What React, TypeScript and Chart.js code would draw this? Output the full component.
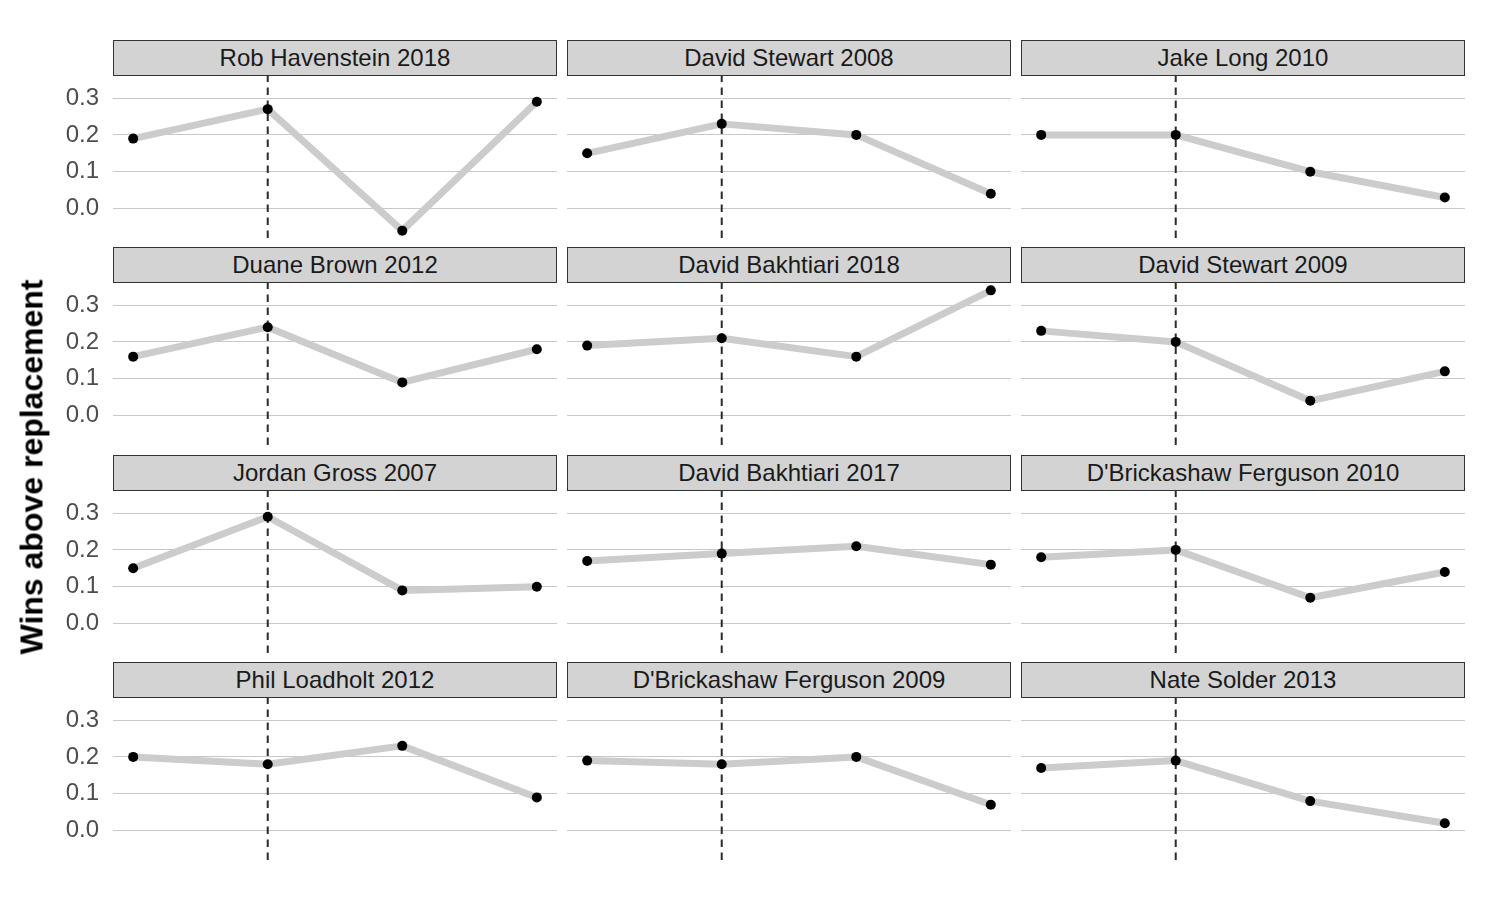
import React, { useEffect, useRef } from "react";
import { Chart, registerables } from "chart.js";

Chart.register(...registerables);

// ---- data ----
const panelTitles = [
  "Rob Havenstein 2018",
  "David Stewart 2008",
  "Jake Long 2010",
  "Duane Brown 2012",
  "David Bakhtiari 2018",
  "David Stewart 2009",
  "Jordan Gross 2007",
  "David Bakhtiari 2017",
  "D'Brickashaw Ferguson 2010",
  "Phil Loadholt 2012",
  "D'Brickashaw Ferguson 2009",
  "Nate Solder 2013",
];

const seasons = [1, 2, 3, 4];
const markerSeason = 2;
const yTicks = [0, 0.1, 0.2, 0.3];
const yMin = -0.08;
const yMax = 0.36;
const xMin = 0.85;
const xMax = 4.15;

const robHavenstein2018 = [0.19, 0.27, -0.06, 0.29];
const davidStewart2008 = [0.15, 0.23, 0.2, 0.04];
const jakeLong2010 = [0.2, 0.2, 0.1, 0.03];
const duaneBrown2012 = [0.16, 0.24, 0.09, 0.18];
const davidBakhtiari2018 = [0.19, 0.21, 0.16, 0.34];
const davidStewart2009 = [0.23, 0.2, 0.04, 0.12];
const jordanGross2007 = [0.15, 0.29, 0.09, 0.1];
const davidBakhtiari2017 = [0.17, 0.19, 0.21, 0.16];
const dbFerguson2010 = [0.18, 0.2, 0.07, 0.14];
const philLoadholt2012 = [0.2, 0.18, 0.23, 0.09];
const dbFerguson2009 = [0.19, 0.18, 0.2, 0.07];
const nateSolder2013 = [0.17, 0.19, 0.08, 0.02];

const panelValues = [
  robHavenstein2018,
  davidStewart2008,
  jakeLong2010,
  duaneBrown2012,
  davidBakhtiari2018,
  davidStewart2009,
  jordanGross2007,
  davidBakhtiari2017,
  dbFerguson2010,
  philLoadholt2012,
  dbFerguson2009,
  nateSolder2013,
];

const yAxisTitle = "Wins above replacement";

// ---- layout / style ----
const FONT = "'Liberation Sans', Arial, sans-serif";
const colLeft = [113, 567, 1021];
const rowTop = [40, 247, 455, 662];
const panelW = 444;
const stripH = 36;
const plotH = 162;
const padBottom = 40;
const axisW = 63;

function Panel({ idx }: { idx: number }) {
  const ref = useRef<HTMLCanvasElement | null>(null);
  const row = Math.floor(idx / 3);
  const col = idx % 3;
  const showTicks = col === 0;
  const left = showTicks ? colLeft[col] - axisW : colLeft[col];
  const width = showTicks ? panelW + axisW : panelW;
  const height = stripH + plotH + padBottom;

  useEffect(() => {
    if (!ref.current) return;
    const values = panelValues[idx];
    const pts = seasons.map((s, i) => ({ x: s, y: values[i] }));
    const chart = new Chart(ref.current, {
      type: "line",
      data: {
        datasets: [
          {
            data: pts,
            showLine: false,
            pointRadius: 5,
            pointBackgroundColor: "#000000",
            pointBorderWidth: 0,
            clip: false,
            order: 1,
          },
          {
            data: [
              { x: markerSeason, y: yMin },
              { x: markerSeason, y: yMax },
            ],
            borderColor: "#2b2b2b",
            borderWidth: 2,
            borderDash: [7.5, 5.5],
            pointRadius: 0,
            order: 2,
          },
          {
            data: pts,
            borderColor: "#cccccc",
            borderWidth: 7,
            borderJoinStyle: "round",
            borderCapStyle: "butt",
            pointRadius: 0,
            order: 3,
          },
        ],
      },
      options: {
        animation: false,
        responsive: false,
        maintainAspectRatio: false,
        layout: {
          autoPadding: false,
          padding: { top: stripH, bottom: padBottom, left: 0, right: 0 },
        },
        plugins: { legend: { display: false }, tooltip: { enabled: false }, title: { display: false } },
        scales: {
          x: {
            type: "linear",
            min: xMin,
            max: xMax,
            display: false,
          },
          y: {
            type: "linear",
            min: yMin,
            max: yMax,
            border: { display: false },
            grid: { color: "#c8c8c8", lineWidth: 1, drawTicks: false, tickLength: 0 },
            afterBuildTicks: (scale: any) => {
              scale.ticks = yTicks.map((v) => ({ value: v }));
            },
            afterFit: (scale: any) => {
              scale.width = showTicks ? axisW : 0;
              scale.paddingTop = 0;
              scale.paddingBottom = 0;
            },
            ticks: {
              display: showTicks,
              padding: 14,
              color: "#4d4d4d",
              font: { family: FONT, size: 24 },
              callback: (v: any) => Number(v).toFixed(1),
            },
          },
        },
      },
    });
    return () => chart.destroy();
  }, [idx]);

  return (
    <>
      <canvas
        ref={ref}
        width={width}
        height={height}
        style={{ position: "absolute", left, top: rowTop[row], width, height }}
      />
      <div
        style={{
          position: "absolute",
          left: colLeft[col],
          top: rowTop[row],
          width: panelW,
          height: stripH,
          boxSizing: "border-box",
          border: "1px solid #333333",
          background: "#d3d3d3",
          color: "#1a1a1a",
          fontFamily: FONT,
          fontSize: 24,
          lineHeight: `${stripH - 2}px`,
          textAlign: "center",
          whiteSpace: "nowrap",
        }}
      >
        {panelTitles[idx]}
      </div>
    </>
  );
}

export default function App() {
  return (
    <div
      style={{
        position: "absolute",
        left: 0,
        top: 0,
        width: 1500,
        height: 900,
        background: "#ffffff",
        overflow: "hidden",
      }}
    >
      {panelTitles.map((_, i) => (
        <Panel key={i} idx={i} />
      ))}
      <div
        style={{
          position: "absolute",
          left: 32,
          top: 467,
          transform: "translate(-50%, -50%) rotate(-90deg)",
          fontFamily: FONT,
          fontWeight: "bold",
          fontSize: 32,
          color: "#000000",
          whiteSpace: "nowrap",
        }}
      >
        {yAxisTitle}
      </div>
    </div>
  );
}
